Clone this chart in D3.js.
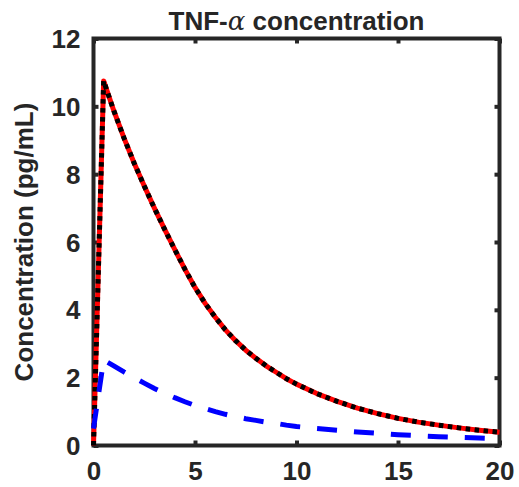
<!DOCTYPE html>
<html>
<head>
<meta charset="utf-8">
<script src="https://cdn.jsdelivr.net/npm/d3@7/dist/d3.min.js"></script>
<style>
  html, body { margin: 0; padding: 0; background: #fff; }
  svg { display: block; }
  text { font-family: "Liberation Sans", Arial, Helvetica, sans-serif; fill: #262626; }
</style>
</head>
<body>
<svg id="chart" width="519" height="487"></svg>
<script>
// ---- data ----
const time = [0, 0.5, 1, 1.5, 2, 2.5, 3, 3.5, 4, 4.5, 5, 5.5, 6, 6.5, 7, 7.5, 8, 8.5, 9, 9.5, 10,
              11, 12, 13, 14, 15, 16, 17, 18, 19, 20];
const redSeries = [0, 10.75, 9.87, 9.07, 8.33, 7.65, 7.0, 6.38, 5.78, 5.2, 4.66, 4.19, 3.78, 3.41, 3.09, 2.81, 2.57, 2.35, 2.16, 1.97, 1.81,
                   1.53, 1.3, 1.1, 0.94, 0.8, 0.69, 0.6, 0.52, 0.45, 0.39];
const blueSeries = [0.5, 2.52, 2.35, 2.17, 2.0, 1.84, 1.68, 1.54, 1.41, 1.29, 1.18, 1.09, 1.0, 0.92, 0.85, 0.79, 0.74, 0.69, 0.65, 0.6, 0.56,
                    0.5, 0.45, 0.4, 0.36, 0.32, 0.29, 0.26, 0.24, 0.22, 0.2];
const xTicks = [0, 5, 10, 15, 20];
const yTicks = [0, 2, 4, 6, 8, 10, 12];
const titleMain = "TNF-";
const titleGreek = "\u03B1";
const titleRest = " concentration";
const yLabel = "Concentration (pg/mL)";

// ---- layout ----
const svg = d3.select("#chart");
const L = 93.5, R = 499.5, T = 38.5, B = 445.5;
const x = d3.scaleLinear().domain([0, 20]).range([L, R]);
const y = d3.scaleLinear().domain([0, 12]).range([B, T]);
const axisColor = "#262626";
const fontSize = "26px";

// frame
svg.append("rect")
  .attr("x", L).attr("y", T).attr("width", R - L).attr("height", B - T)
  .attr("fill", "none").attr("stroke", axisColor).attr("stroke-width", 4);

// axes (ticks inward, labels)
const tickLen = 5;
const xAxisB = d3.axisBottom(x).tickValues(xTicks).tickSize(-tickLen).tickPadding(16).tickFormat(d3.format("d"));
const gxB = svg.append("g").attr("transform", `translate(0,${B})`).call(xAxisB);
const xAxisT = d3.axisTop(x).tickValues(xTicks).tickSize(-tickLen).tickFormat("");
const gxT = svg.append("g").attr("transform", `translate(0,${T})`).call(xAxisT);
const yAxisL = d3.axisLeft(y).tickValues(yTicks).tickSize(-tickLen).tickPadding(13).tickFormat(d3.format("d"));
const gyL = svg.append("g").attr("transform", `translate(${L},0)`).call(yAxisL);
const yAxisR = d3.axisRight(y).tickValues(yTicks).tickSize(-tickLen).tickFormat("");
const gyR = svg.append("g").attr("transform", `translate(${R},0)`).call(yAxisR);

[gxB, gxT, gyL, gyR].forEach(g => {
  g.select(".domain").remove();
  g.selectAll(".tick line").attr("stroke", axisColor).attr("stroke-width", 4);
  g.selectAll(".tick text")
    .attr("fill", axisColor)
    .style("font-family", "'Liberation Sans', Arial, sans-serif")
    .style("font-weight", "bold")
    .style("font-size", fontSize);
});
gxB.selectAll(".tick text").attr("dy", "0.71em");
gyL.selectAll(".tick text").attr("dy", "0.35em");

// lines
const line = d3.line().x((d, i) => x(time[i])).y(d => y(d)).curve(d3.curveLinear);

svg.append("path").datum(redSeries)
  .attr("d", line).attr("fill", "none")
  .attr("stroke", "#ff0000").attr("stroke-width", 5).attr("stroke-linejoin", "round");
svg.append("path").datum(redSeries)
  .attr("d", line).attr("fill", "none")
  .attr("stroke", "#000000").attr("stroke-width", 5)
  .attr("stroke-dasharray", "4.5,4.5");
svg.append("path").datum(blueSeries)
  .attr("d", line).attr("fill", "none")
  .attr("stroke", "#0000ff").attr("stroke-width", 5)
  .attr("stroke-dasharray", "20,17");

// title
const title = svg.append("text")
  .attr("x", (L + R) / 2).attr("y", 30)
  .attr("text-anchor", "middle")
  .style("font-weight", "bold").style("font-size", fontSize)
  .attr("fill", "#000");
title.append("tspan").text(titleMain);
title.append("tspan").text(titleGreek)
  .style("font-family", "'DejaVu Serif', 'Liberation Serif', serif")
  .style("font-style", "italic").style("font-weight", "normal");
title.append("tspan").text(titleRest);

// y label
svg.append("text")
  .attr("transform", `translate(33,${(T + B) / 2}) rotate(-90)`)
  .attr("text-anchor", "middle")
  .style("font-weight", "bold").style("font-size", fontSize)
  .attr("fill", axisColor)
  .text(yLabel);
</script>
</body>
</html>
